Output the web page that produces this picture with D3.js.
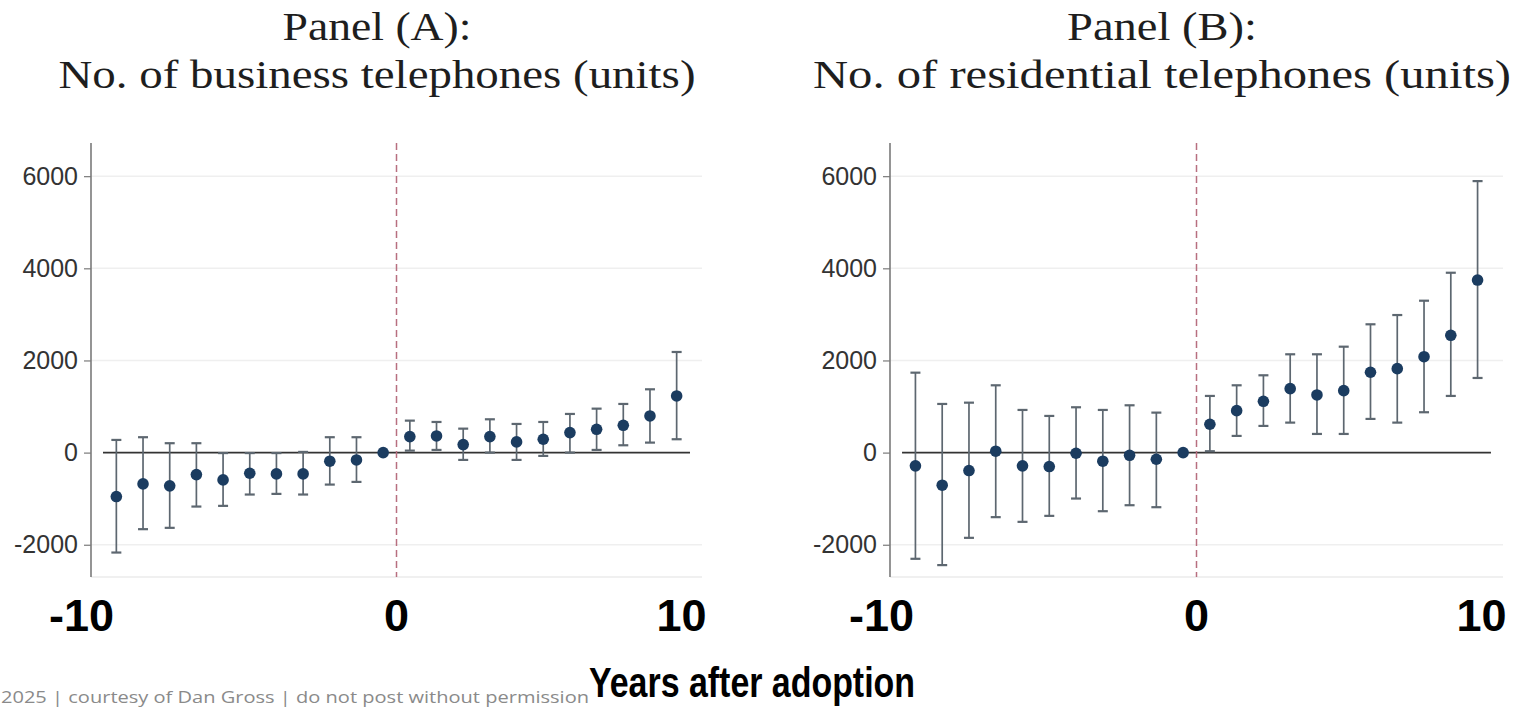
<!DOCTYPE html>
<html>
<head>
<meta charset="utf-8">
<script src="https://cdn.jsdelivr.net/npm/d3@7"></script>
<style>
  body { margin: 0; background: #fff; }
  svg { display: block; }
  .title { font-family: 'Liberation Serif', 'Times New Roman', serif; fill: #1e1e1e; }
  .ytick text { font-family: 'Liberation Sans', Arial, sans-serif; font-size: 25px; fill: #333; }
  .big { font-family: 'Liberation Sans', Arial, sans-serif; font-weight: bold; fill: #000; }
</style>
</head>
<body>
<svg id="chart" width="1514" height="708"></svg>
<script>
// Event time of each estimate (the plotted points sit half a year off the adoption line)
const periods = [-10.5, -9.5, -8.5, -7.5, -6.5, -5.5, -4.5, -3.5, -2.5, -1.5, -0.5,
  0.5, 1.5, 2.5, 3.5, 4.5, 5.5, 6.5, 7.5, 8.5, 9.5, 10.5]

// Panel (A): business telephones
const businessEst = [-954, -679, -722, -477, -592, -448, -462, -462, -187, -159, 0,
  347, 362, 174, 347, 232, 290, 434, 506, 593, 796, 1230]
const businessLo = [-2169, -1662, -1633, -1171, -1156, -910, -896, -910, -694, -636, null,
  43, 58, -159, 0, -159, -72, 0, 58, 159, 217, 290]
const businessHi = [275, 334, 204, 204, -10, -10, -10, 15, 334, 334, null,
  694, 665, 520, 723, 622, 665, 839, 954, 1056, 1374, 2184]

// Panel (B): residential telephones
const residentialEst = [-288, -707, -390, 30, -288, -303, -14, -187, -58, -144, 0,
  615, 911, 1114, 1388, 1251, 1345, 1744, 1822, 2082, 2546, 3745]
const residentialLo = [-2305, -2442, -1850, -1401, -1503, -1373, -997, -1272, -1142, -1185, null,
  30, 362, 579, 651, 405, 405, 731, 651, 876, 1230, 1620]
const residentialHi = [1735, 1056, 1084, 1461, 926, 796, 984, 926, 1027, 868, null,
  1230, 1461, 1678, 2134, 2134, 2299, 2785, 2986, 3297, 3904, 5893]

const yTicks = [-2000, 0, 2000, 4000, 6000]
const bigTicks = [-10, 0, 10]

const svg = d3.select('#chart')
const plotTop = 143
const plotBottom = 577

const yScale = d3.scaleLinear()
  .domain([-2700, 6720])
  .range([plotBottom, plotTop])

// Draws one event-study panel
function drawPanel (left, right, titleLines, titleX, titleWidths, est, lo, hi) {
  const x = d3.scaleLinear()
    .domain([-11.45, 11.45])
    .range([left, right])

  const data = periods.map((p, i) => ({ p, est: est[i], lo: lo[i], hi: hi[i] }))
  const g = svg.append('g')

  // light grid lines
  g.selectAll('.grid')
    .data(yTicks.filter(d => d !== 0))
    .enter()
    .append('line')
    .attr('x1', left)
    .attr('x2', right)
    .attr('y1', d => yScale(d))
    .attr('y2', d => yScale(d))
    .attr('stroke', '#efefef')
    .attr('stroke-width', 1.5)

  // faint bottom edge
  g.append('line')
    .attr('x1', left).attr('x2', right)
    .attr('y1', plotBottom).attr('y2', plotBottom)
    .attr('stroke', '#f0f0f0')
    .attr('stroke-width', 2)

  // y axis (plain numbers, no thousands separator)
  const axis = g.append('g')
    .attr('class', 'ytick')
    .attr('transform', `translate(${left}, 0)`)
    .call(d3.axisLeft(yScale).tickValues(yTicks).tickFormat(d => String(d))
      .tickSize(7).tickPadding(6).tickSizeOuter(0))
  axis.select('.domain').attr('stroke', '#7a7a7a').attr('stroke-width', 1.6)
    .attr('d', `M0,${plotTop}V${plotBottom}`)
  axis.selectAll('.tick line').attr('stroke', '#7a7a7a').attr('stroke-width', 1.2)

  // zero line
  g.append('line')
    .attr('x1', x(-11))
    .attr('x2', x(11))
    .attr('y1', yScale(0))
    .attr('y2', yScale(0))
    .attr('stroke', '#333')
    .attr('stroke-width', 1.6)

  // adoption line
  g.append('line')
    .attr('x1', x(0))
    .attr('x2', x(0))
    .attr('y1', plotTop)
    .attr('y2', plotBottom)
    .attr('stroke', '#b86f80')
    .attr('stroke-width', 1.5)
    .attr('stroke-dasharray', '7,4')

  // confidence intervals
  const bars = data.filter(d => d.lo !== null)
  g.selectAll('.ci')
    .data(bars)
    .enter()
    .append('line')
    .attr('x1', d => x(d.p))
    .attr('x2', d => x(d.p))
    .attr('y1', d => yScale(d.lo))
    .attr('y2', d => yScale(d.hi))
    .attr('stroke', '#5d6770')
    .attr('stroke-width', 1.7)

  // caps on both ends
  const caps = bars.flatMap(d => [{ p: d.p, v: d.lo }, { p: d.p, v: d.hi }])
  g.selectAll('.cap')
    .data(caps)
    .enter()
    .append('line')
    .attr('x1', d => x(d.p) - 5)
    .attr('x2', d => x(d.p) + 5)
    .attr('y1', d => yScale(d.v))
    .attr('y2', d => yScale(d.v))
    .attr('stroke', '#5d6770')
    .attr('stroke-width', 2.2)

  // point estimates
  g.selectAll('.dot')
    .data(data)
    .enter()
    .append('circle')
    .attr('cx', d => x(d.p))
    .attr('cy', d => yScale(d.est))
    .attr('r', 5.8)
    .attr('fill', '#1b3c60')

  // titles
  g.append('text')
    .attr('class', 'title')
    .attr('x', titleX)
    .attr('y', 40)
    .attr('text-anchor', 'middle')
    .attr('font-size', 40)
    .attr('textLength', titleWidths[0])
    .attr('lengthAdjust', 'spacingAndGlyphs')
    .text(titleLines[0])
  g.append('text')
    .attr('class', 'title')
    .attr('x', titleX)
    .attr('y', 88)
    .attr('text-anchor', 'middle')
    .attr('font-size', 40)
    .attr('textLength', titleWidths[1])
    .attr('lengthAdjust', 'spacingAndGlyphs')
    .text(titleLines[1])

  // big overlay labels for the x axis
  const bigX = d3.scaleLinear()
    .domain([-10, 0, 10])
    .range([x(0) - 315, x(0), x(0) + 285])
  g.selectAll('.big-tick')
    .data(bigTicks)
    .enter()
    .append('text')
    .attr('class', 'big')
    .attr('x', d => bigX(d))
    .attr('y', 631)
    .attr('text-anchor', 'middle')
    .attr('font-size', 45)
    .text(d => d)
}

drawPanel(91, 702, ['Panel (A):', 'No. of business telephones (units)'], 377, [189, 637],
  businessEst, businessLo, businessHi)
drawPanel(890, 1503, ['Panel (B):', 'No. of residential telephones (units)'], 1162, [190, 698],
  residentialEst, residentialLo, residentialHi)

svg.append('text')
  .attr('class', 'big')
  .attr('x', 752)
  .attr('y', 697)
  .attr('text-anchor', 'middle')
  .attr('font-size', 42)
  .attr('textLength', 326)
  .attr('lengthAdjust', 'spacingAndGlyphs')
  .text('Years after adoption')

svg.append('text')
  .attr('x', 1)
  .attr('y', 703)
  .attr('font-family', "'Open Sans', sans-serif")
  .attr('font-size', 16)
  .attr('fill', '#8a8a8a')
  .attr('textLength', 588)
  .attr('lengthAdjust', 'spacingAndGlyphs')
  .text('2025 | courtesy of Dan Gross | do not post without permission')
</script>
</body>
</html>
